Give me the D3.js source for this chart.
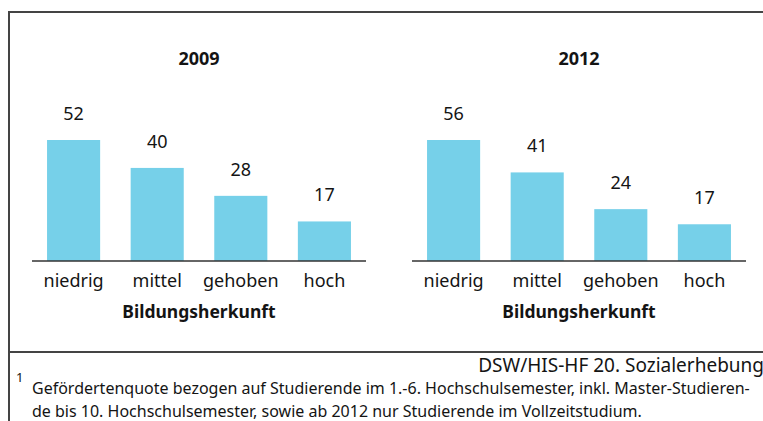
<!DOCTYPE html>
<html>
<head>
<meta charset="utf-8">
<script src="https://cdn.jsdelivr.net/npm/d3@7"></script>
<style>
  body { margin: 0; background: #fff; }
  svg { display: block; font-family: "Noto Sans", sans-serif; }
</style>
</head>
<body>
<div id="chart"></div>
<script>
// data
const years = ["2009", "2012"]
const categories = ["niedrig", "mittel", "gehoben", "hoch"]
const values2009 = [52, 40, 28, 17]
const values2012 = [56, 41, 24, 17]
const axisTitle = "Bildungsherkunft"
const source = "DSW/HIS-HF 20. Sozialerhebung"
const footnote = [
  "Gefördertenquote bezogen auf Studierende im 1.-6. Hochschulsemester, inkl. Master-Studieren-",
  "de bis 10. Hochschulsemester, sowie ab 2012 nur Studierende im Vollzeitstudium."
]

const WIDTH = 763
const HEIGHT = 421
const BASE = 261
const BAR_MAX = 121
const BAR_COLOR = "#76d0e9"
const TEXT = "#141414"

const svg = d3.select("#chart").append("svg")
  .attr("width", WIDTH)
  .attr("height", HEIGHT)

// frame
svg.append("path")
  .attr("d", `M9,${HEIGHT} V12 H${WIDTH}`)
  .attr("fill", "none")
  .attr("stroke", "#444")
  .attr("stroke-width", 2)
svg.append("line")
  .attr("x1", 9).attr("x2", WIDTH)
  .attr("y1", 352).attr("y2", 352)
  .attr("stroke", "#444")
  .attr("stroke-width", 2)

const panels = [
  { year: years[0], values: values2009, x0: 32, x1: 366 },
  { year: years[1], values: values2012, x0: 412, x1: 746 }
]

panels.forEach(p => {
  const data = categories.map((c, i) => ({ cat: c, value: p.values[i] }))

  const x = d3.scaleBand()
    .domain(categories)
    .range([p.x0, p.x1])
    .paddingInner(0.365)
    .paddingOuter(0.18)

  const y = d3.scaleLinear()
    .domain([0, d3.max(p.values)])
    .range([BASE, BASE - BAR_MAX])

  const g = svg.append("g")
  const mid = (p.x0 + p.x1) / 2

  g.append("text")
    .attr("x", mid)
    .attr("y", 65)
    .attr("text-anchor", "middle")
    .attr("font-size", "18px")
    .attr("font-weight", "bold")
    .attr("fill", TEXT)
    .text(p.year)

  g.selectAll("rect").data(data).enter().append("rect")
    .attr("x", d => x(d.cat))
    .attr("y", d => y(d.value))
    .attr("width", x.bandwidth())
    .attr("height", d => BASE - y(d.value))
    .attr("fill", BAR_COLOR)

  g.selectAll(".val").data(data).enter().append("text")
    .attr("class", "val")
    .attr("x", d => x(d.cat) + x.bandwidth() / 2)
    .attr("y", d => y(d.value) - 20)
    .attr("text-anchor", "middle")
    .attr("font-size", "18px")
    .attr("fill", TEXT)
    .text(d => d.value)

  const axis = d3.axisBottom(x).tickSize(0).tickPadding(0)
  const ax = g.append("g")
    .attr("transform", `translate(0,${BASE})`)
    .call(axis)
  ax.select(".domain")
    .attr("d", `M${p.x0},0H${p.x1}`)
    .attr("stroke", "#333")
    .attr("stroke-width", 1.5)
  ax.selectAll(".tick text")
    .attr("y", 26)
    .attr("dy", null)
    .attr("font-size", "18px")
    .attr("font-family", "Noto Sans, sans-serif")
    .attr("fill", TEXT)

  g.append("text")
    .attr("x", mid)
    .attr("y", 318)
    .attr("text-anchor", "middle")
    .attr("font-size", "17.5px")
    .attr("font-weight", "bold")
    .attr("fill", TEXT)
    .text(axisTitle)
})

// source + footnote
svg.append("text")
  .attr("x", WIDTH + 1)
  .attr("y", 372)
  .attr("text-anchor", "end")
  .attr("font-size", "19px")
  .attr("fill", TEXT)
  .text(source)

svg.append("text")
  .attr("x", 16)
  .attr("y", 382)
  .attr("font-size", "13px")
  .attr("fill", TEXT)
  .text("1")

svg.selectAll(".note").data(footnote).enter().append("text")
  .attr("class", "note")
  .attr("x", 32)
  .attr("y", (d, i) => 394 + i * 23)
  .attr("font-size", "16px")
  .attr("fill", TEXT)
  .text(d => d)
</script>
</body>
</html>
